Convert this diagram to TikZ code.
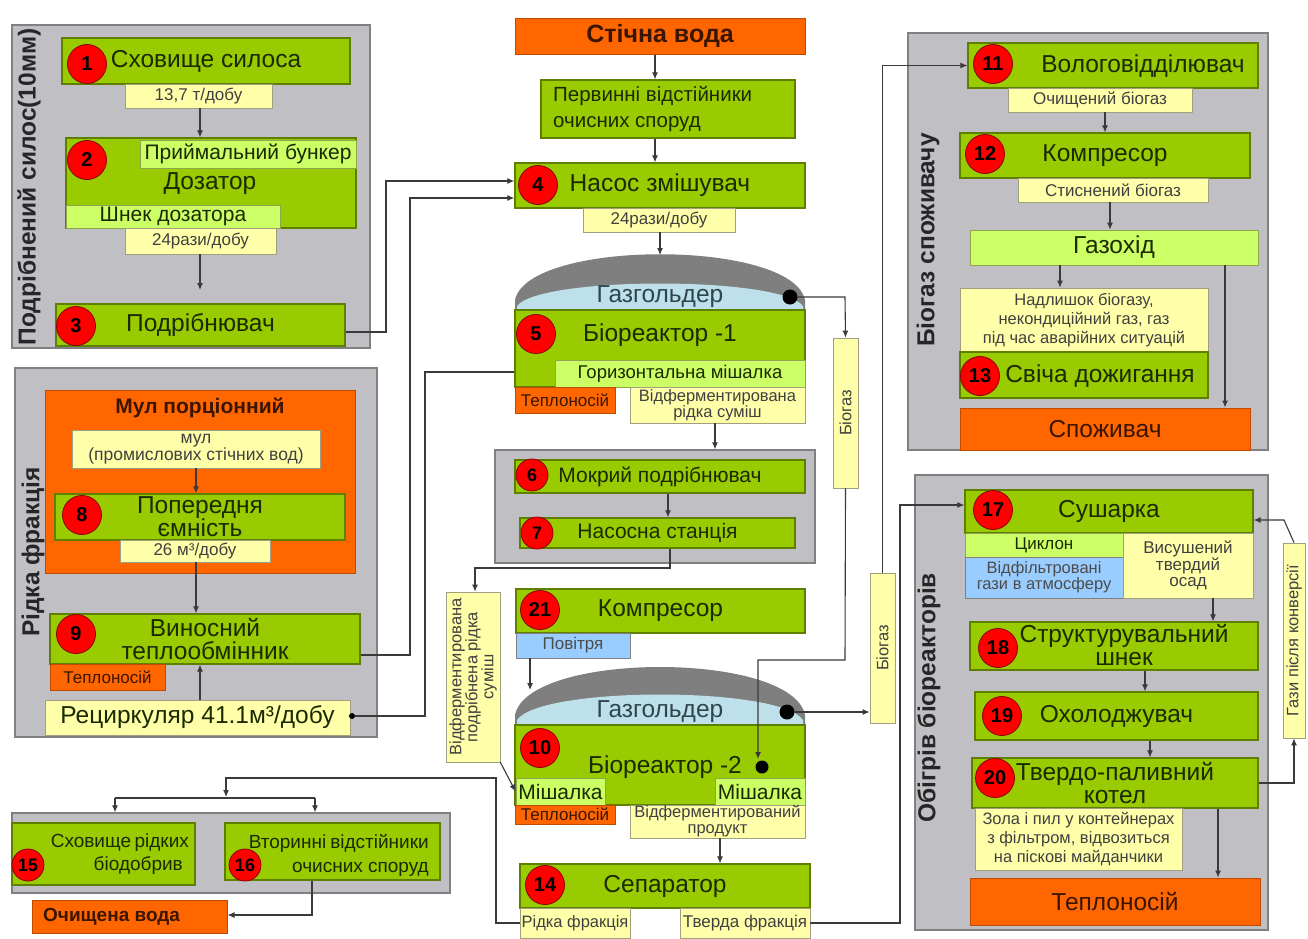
\documentclass[tikz,border=0pt]{standalone}
\usepackage{fontspec}
\setmainfont{Liberation Sans}
\usetikzlibrary{arrows.meta}

\definecolor{grn}{HTML}{99CC00}
\definecolor{grnB}{HTML}{5E7F00}
\definecolor{lgrn}{HTML}{CCFF66}
\definecolor{ylw}{HTML}{FFFFAA}
\definecolor{ylwB}{HTML}{A0A080}
\definecolor{org}{HTML}{FF6600}
\definecolor{orgB}{HTML}{C04A00}
\definecolor{grp}{HTML}{C0C0C4}
\definecolor{grpB}{HTML}{808080}
\definecolor{sky}{HTML}{99CCFF}
\definecolor{gascol}{HTML}{BDE0EA}
\definecolor{domecol}{HTML}{7F7F7F}
\definecolor{ink}{HTML}{1B2A00}
\definecolor{wirecol}{HTML}{3A3A3A}
\definecolor{brown}{HTML}{3A1500}
\definecolor{gasink}{HTML}{2F4650}

% box spanning the corners (#2,#3) and (#4,#5), with centred text
\newcommand\bx[7]{%
  \pgfmathsetmacro\bxw{#4-#2}\pgfmathsetmacro\bxh{#5-#3}%
  \pgfmathsetmacro\bxx{(#2+#4)/2}\pgfmathsetmacro\bxy{(#3+#5)/2}%
  \node[#6, inner sep=0pt, minimum width=\bxw pt, minimum height=\bxh pt] (#1) at (\bxx,\bxy) {#7};}

\begin{document}
\begin{tikzpicture}[x=1pt,y=-1pt,
  grpbox/.style={fill=grp, draw=grpB, line width=1.2pt},
  gbox/.style={fill=grn, draw=grnB, line width=1.2pt, text=ink, align=center},
  lgbox/.style={fill=lgrn, draw=grnB!70, line width=0.8pt, text=ink, align=center},
  ybox/.style={fill=ylw, draw=ylwB, line width=0.8pt, text=black!75, align=center},
  obox/.style={fill=org, draw=orgB, line width=1pt, text=brown, align=center},
  bbox/.style={fill=sky, draw=grpB, line width=0.8pt, text=black!70, align=center},
  txt/.style={inner sep=0pt, text=ink, align=center},
  num/.style={circle, fill=red, draw=red!55!black, line width=0.8pt, minimum size=39pt,
    inner sep=0pt, text=black, font=\fontsize{20}{20}\selectfont\bfseries},
  smallnum/.style={num, minimum size=32pt, font=\fontsize{18}{18}\selectfont\bfseries},
  dot/.style={circle, fill=black, inner sep=0pt, minimum size=15pt},
  tinydot/.style={circle, fill=black, inner sep=0pt, minimum size=6pt},
  grplabel/.style={inner sep=0pt, rotate=90, text=black!85, font=\fontsize{24.5}{25}\selectfont\bfseries},
  wire/.style={draw=wirecol, line width=1.1pt},
  arr/.style={wire, -{Latex[length=7pt,width=6pt]}},
  fS/.style={font=\fontsize{17}{17}\selectfont},
  fSt/.style={font=\fontsize{16.5}{16}\selectfont},
  fM/.style={font=\fontsize{21}{22}\selectfont},
  fL/.style={font=\fontsize{24.5}{23}\selectfont},
  fbS/.style={font=\fontsize{19}{20}\selectfont\bfseries},
  fbM/.style={font=\fontsize{21}{22}\selectfont\bfseries},
  fbL/.style={font=\fontsize{25}{26}\selectfont\bfseries},
]
\useasboundingbox (0,0) rectangle (1308,938);
\fill[white] (0,0) rectangle (1308,938);

% ---------- group panels ----------
\bx{gA}{12}{25}{370}{348}{grpbox}{}
\bx{gB}{15}{368}{377}{737}{grpbox}{}
\bx{gC}{495}{450}{815}{563}{grpbox}{}
\bx{gD}{12}{813}{450}{893}{grpbox}{}
\bx{gE}{908}{33}{1268}{450}{grpbox}{}
\bx{gF}{915}{475}{1268}{930}{grpbox}{}

\node[grplabel] (lA) at (29,187) {Подрібнений силос(10мм)};
\node[grplabel] (lB) at (33,552) {Рідка фракція};
\node[grplabel] (lE) at (928,240) {Біогаз споживачу};
\node[grplabel] (lF) at (929,698) {Обігрів біореакторів};

% ---------- silage line ----------
\bx{b1}{62}{38}{350}{84}{gbox,fL}{Сховище силоса}
\bx{r1}{125}{84}{272}{108}{ybox,fS}{13,7 т/добу}
\bx{b2}{66}{138}{356}{228}{gbox}{}
\bx{pb}{140}{140}{356}{168}{lgbox,fM}{Приймальний бункер}
\node[txt,fL] (dz) at (210,184) {Дозатор};
\bx{sd}{66}{205}{280}{228}{lgbox,fM}{Шнек дозатора}
\bx{r2}{125}{228}{276}{254}{ybox,fS}{24рази/добу}
\bx{b3}{56}{304}{345}{346}{gbox,fL}{Подрібнювач}

% ---------- sludge / liquid fraction ----------
\bx{mul}{45}{390}{355}{573}{obox}{}
\node[txt,fbM,text=brown] (mulT) at (200,408) {Мул порціонний};
\bx{mst}{72}{430}{320}{468}{ybox,font=\fontsize{17.5}{17}\selectfont}{мул\\(промислових стічних вод)}
\bx{b8}{55}{494}{345}{540}{gbox,fL}{Попередня\\ємність}
\bx{r8}{120}{540}{270}{562}{ybox,fS}{26 м³/добу}
\bx{b9}{50}{614}{360}{664}{gbox,fL}{Виносний\\теплообмінник}
\bx{tn9}{50}{664}{165}{690}{obox,fS}{Теплоносій}
\bx{rec}{45}{700}{350}{735}{ybox,fL,text=ink}{Рециркуляр 41.1м³/добу}

% ---------- central column ----------
\bx{sw}{515}{18}{805}{54}{obox,fbL}{Стічна вода}
\bx{pv}{541}{80}{795}{138}{gbox}{}
\node[txt,anchor=west,align=left,font=\fontsize{20.5}{26}\selectfont] (pvT) at (553,109) {Первинні відстійники\\очисних споруд};
\bx{b4}{515}{163}{805}{208}{gbox,fL}{Насос змішувач}
\bx{r4}{583}{208}{735}{232}{ybox,fS}{24рази/добу}

% bioreactor 1 with its gas holder dome
\fill[domecol] (515,312) -- (515,300) .. controls (528,239) and (792,239) .. (805,300) -- (805,312) -- cycle;
\fill[gascol] (517,312) -- (517,306) .. controls (540,276) and (780,276) .. (803,306) -- (803,312) -- cycle;
\coordinate (d1top) at (660,255);
\node[txt,fL,text=gasink] (gh1) at (660,297) {Газгольдер};
\bx{b5}{515}{310}{805}{387}{gbox}{}
\node[txt,fL] (b5T) at (660,335) {Біореактор -1};
\bx{hm}{555}{360}{805}{387}{lgbox,font=\fontsize{18.5}{19}\selectfont}{Горизонтальна мішалка}
\bx{tn5}{515}{387}{615}{413}{obox,fS}{Теплоносій}
\bx{fr1}{630}{387}{805}{423}{ybox,fSt}{Відферментирована\\рідка суміш}

\bx{b6}{515}{460}{805}{493}{gbox,fM}{Мокрий подрібнювач}
\bx{b7}{520}{518}{795}{548}{gbox,fM}{Насосна станція}

\bx{vfr}{446}{592}{500}{762}{ybox}{}
\node[txt,fSt,rotate=90,text=black!75] (vfrT) at (vfr) {Відферментирована\\подрібнена рідка\\суміш};

\bx{b21}{516}{589}{805}{633}{gbox,fL}{Компресор}
\bx{pov}{516}{633}{630}{658}{bbox,fS}{Повітря}

% bioreactor 2 with its gas holder dome
\fill[domecol] (515,727) -- (515,715) .. controls (528,651) and (792,651) .. (805,715) -- (805,727) -- cycle;
\fill[gascol] (517,727) -- (517,720) .. controls (540,686) and (780,686) .. (803,720) -- (803,727) -- cycle;
\coordinate (d2top) at (530,690);
\node[txt,fL,text=gasink] (gh2) at (660,712) {Газгольдер};
\bx{b10}{515}{725}{805}{805}{gbox}{}
\node[txt,fL] (b10T) at (665,767) {Біореактор -2};
\bx{mx1}{516}{778}{605}{805}{lgbox,fM}{Мішалка}
\bx{mx2}{715}{778}{805}{805}{lgbox,fM}{Мішалка}
\bx{tn10}{515}{805}{615}{824}{obox,fS}{Теплоносій}
\bx{fr2}{630}{805}{805}{838}{ybox,fSt}{Відферментирований\\продукт}
\bx{b14}{520}{864}{810}{908}{gbox,fL}{Сепаратор}
\bx{rf}{520}{908}{630}{938}{ybox,fSt}{Рідка фракція}
\bx{tf}{680}{908}{810}{938}{ybox,fS}{Тверда фракція}

% biogas bars
\bx{bg1}{833}{338}{858}{488}{ybox}{}
\node[txt,fSt,rotate=90,text=black!75] (bg1T) at (bg1) {Біогаз};
\bx{bg2}{870}{573}{895}{723}{ybox}{}
\node[txt,fSt,rotate=90,text=black!75] (bg2T) at (bg2) {Біогаз};

% ---------- bottom left ----------
\bx{b15}{12}{823}{195}{885}{gbox}{}
\node[txt,align=right,anchor=east,font=\fontsize{19}{23}\selectfont] (b15T) at (183,854)
  {\makebox[132pt][s]{Сховище рідких}\\біодобрив};
\bx{b16}{225}{823}{440}{880}{gbox}{}
\node[txt,align=right,anchor=east,font=\fontsize{19}{24}\selectfont] (b16T) at (429,855)
  {\makebox[180pt][s]{Вторинні відстійники}\\очисних споруд};
\bx{ov}{32}{900}{227}{933}{obox}{}
\node[txt,fbS,text=brown,anchor=west] (ovT) at (43,917) {Очищена вода};

% ---------- biogas to consumer ----------
\bx{b11}{968}{43}{1258}{88}{gbox}{}
\node[txt,fL] (b11T) at (1143,66) {Вологовідділювач};
\bx{r11}{1008}{88}{1192}{112}{ybox,fS}{Очищений біогаз}
\bx{b12}{960}{133}{1250}{178}{gbox,fL}{Компресор}
\bx{r12}{1018}{178}{1208}{202}{ybox,fS}{Стиснений біогаз}
\bx{gaz}{970}{230}{1258}{265}{lgbox,fL}{Газохід}
\bx{nad}{960}{288}{1208}{352}{ybox,font=\fontsize{16.5}{19}\selectfont}{Надлишок біогазу,\\некондиційний газ, газ\\під час аварійних ситуацій}
\bx{b13}{960}{352}{1208}{398}{gbox}{}
\node[txt,fL] (b13T) at (1100,376) {Свіча дожигання};
\bx{spz}{960}{408}{1250}{450}{obox,fL}{Споживач}

% ---------- bioreactor heating ----------
\bx{b17}{965}{490}{1253}{533}{gbox,fL}{Сушарка}
\bx{cyc}{965}{533}{1123}{557}{lgbox,fS}{Циклон}
\bx{atm}{965}{557}{1123}{598}{bbox,fSt}{Відфільтровані\\гази в атмосферу}
\bx{vis}{1123}{533}{1253}{598}{ybox,font=\fontsize{17}{15.5}\selectfont}{Висушений\\твердий\\осад}
\bx{b18}{970}{622}{1258}{670}{gbox}{}
\node[txt,fL] (b18T) at (1124,645) {Структурувальний\\шнек};
\bx{b19}{975}{692}{1258}{740}{gbox,fL}{Охолоджувач}
\bx{b20}{972}{758}{1258}{808}{gbox,fL}{Твердо-паливний\\котел}
\bx{zol}{975}{808}{1182}{870}{ybox,font=\fontsize{16.5}{19}\selectfont}{Зола і пил у контейнерах\\з фільтром, відвозиться\\на піскові майданчики}
\bx{tep}{970}{878}{1260}{925}{obox,fL}{Теплоносій}
\bx{gpk}{1283}{543}{1305}{738}{ybox}{}
\node[txt,fSt,rotate=90,text=black!75] (gpkT) at (gpk) {Гази після конверсії};

% ---------- dots ----------
\node[dot] (d1) at (790,297) {};
\node[dot] (d2) at (787,712) {};
\node[dot,minimum size=13pt] (d3) at (762,767) {};
\node[tinydot] (dr) at (352,716) {};
\coordinate (b3in) at (200,290);
\coordinate (spl) at (226,797);
\coordinate (sl) at (115,798);
\coordinate (sr) at (315,798);

% ---------- connectors ----------
\draw[arr] (r1.south -| 200,0) -- (b2.north -| 200,0);
\draw[arr] (r2.south -| 200,0) -- (b3in);
\draw[arr] (mst.south -| 196,0) -- (b8.north -| 196,0);
\draw[arr] (r8.south -| 196,0) -- (b9.north -| 196,0);
\draw[arr] (rec.north -| 200,0) -- (b9.south -| 200,0);
\draw[arr] (b3.east |- 0,332) -- (386,332) -- (386,181) -- (b4.west |- 0,181);
\draw[arr] (b9.east |- 0,655) -- (410,655) -- (410,198) -- (b4.west |- 0,198);
\draw[wire] (b5.west |- 0,372) -- (425,372) -- (425,716) -- (dr);

\draw[arr] (sw.south -| 655,0) -- (pv.north -| 655,0);
\draw[arr] (pv.south -| 655,0) -- (b4.north -| 655,0);
\draw[arr] (r4.south -| 660,0) -- (d1top);
\draw[arr] (fr1.south -| 715,0) -- (gC.north -| 715,0);
\draw[arr] (b6.south -| 668,0) -- (b7.north -| 668,0);
\draw[arr] (b7.south -| 670,0) -- (670,568) -| (vfr.north -| 475,0);
\draw[arr] (vfr.south east) -- (mx1.west);
\draw[arr] (pov.south -| 530,0) -- (d2top);
\draw[arr] (fr2.south -| 720,0) -- (b14.north -| 720,0);

\draw[arr] (d1.east) -- (845,297) -- (bg1.north);
\draw[arr] (bg1.south) -- (845,660) -- (758,660) -- (758,759);
\draw[arr] (d2.east) -- (bg2.west |- d2.east);
\draw[arr] (bg2.north) -- (bg2.north |- b11.west) -- (b11.west);
\draw[arr] (tf.east) -| (900,505) -- (b17.west |- 0,505);

\draw[arr] (rf.west) -- (496,923) -- (496,778) -- (226,778) -- (spl);
\draw[wire] (sl) -- (sr);
\draw[arr] (sl) -- (sl |- gD.north);
\draw[arr] (sr) -- (sr |- gD.north);
\draw[arr] (b16.south -| 312,0) -- (312,915) -- (ov.east |- 0,915);

\draw[arr] (r11.south -| 1105,0) -- (b12.north -| 1105,0);
\draw[arr] (r12.south -| 1110,0) -- (gaz.north -| 1110,0);
\draw[arr] (gaz.south -| 1060,0) -- (nad.north -| 1060,0);
\draw[arr] (gaz.south -| 1225,0) -- (spz.north -| 1225,0);

\draw[arr] (vis.south -| 1213,0) -- (b18.north -| 1213,0);
\draw[arr] (b18.south -| 1145,0) -- (b19.north -| 1145,0);
\draw[arr] (b19.south -| 1150,0) -- (b20.north -| 1150,0);
\draw[arr] (b20.south -| 1218,0) -- (tep.north -| 1218,0);
\draw[arr] (b20.east |- 0,783) -- (1294,783) -- (gpk.south);
\draw[arr] (gpk.north) -- (1284,520) -- (b17.east |- 0,520);

% ---------- numbered markers ----------
\node[num] (n1) at (87,64) {1};
\node[num] (n2) at (87,160) {2};
\node[num] (n3) at (76,326) {3};
\node[num] (n4) at (538,185) {4};
\node[num] (n5) at (536,334) {5};
\node[smallnum] (n6) at (532,475) {6};
\node[smallnum] (n7) at (537,533) {7};
\node[num] (n8) at (82,515) {8};
\node[num] (n9) at (76,634) {9};
\node[num] (n10) at (540,748) {10};
\node[num] (n11) at (993,64) {11};
\node[num] (n12) at (985,154) {12};
\node[num] (n13) at (980,376) {13};
\node[num] (n14) at (545,885) {14};
\node[smallnum] (n15) at (28,865) {15};
\node[smallnum] (n16) at (245,865) {16};
\node[num] (n17) at (993,510) {17};
\node[num] (n18) at (998,648) {18};
\node[num] (n19) at (1002,716) {19};
\node[num] (n20) at (995,778) {20};
\node[num] (n21) at (540,610) {21};
\end{tikzpicture}
\end{document}
